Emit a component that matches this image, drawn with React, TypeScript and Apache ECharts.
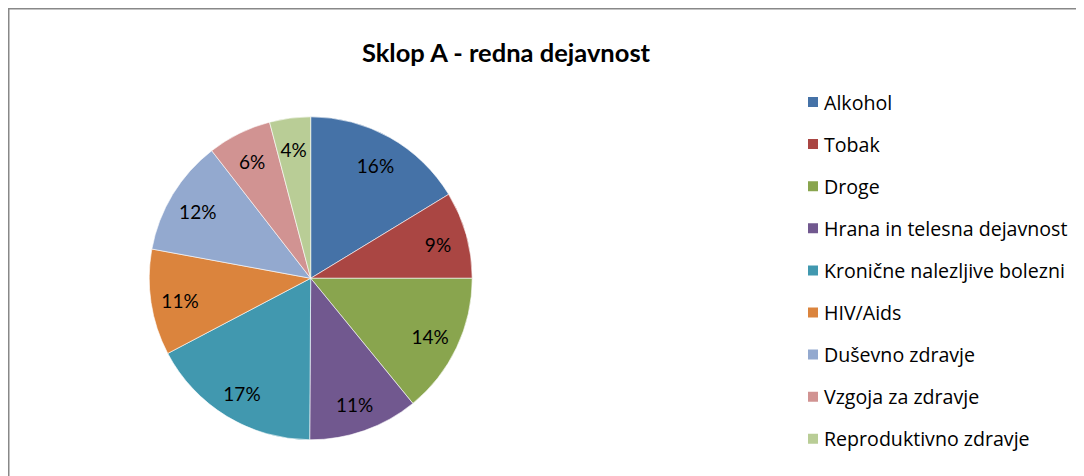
import React, { useEffect, useRef } from "react";
import * as echarts from "echarts";

const titleText = "Sklop A - redna dejavnost";
const categories = [
  "Alkohol",
  "Tobak",
  "Droge",
  "Hrana in telesna dejavnost",
  "Kronične nalezljive bolezni",
  "HIV/Aids",
  "Duševno zdravje",
  "Vzgoja za zdravje",
  "Reproduktivno zdravje",
];
const values = [16.3, 8.7, 14.1, 11.0, 17.2, 10.6, 11.6, 6.4, 4.1];
const colors = [
  "#4572A7",
  "#AA4643",
  "#89A54E",
  "#71588F",
  "#4198AF",
  "#DB843D",
  "#93A9CF",
  "#D19392",
  "#B9CD96",
];

const FONT = "Lato, 'Noto Sans', sans-serif";
const LEGEND_FONT = "'Open Sans', 'Noto Sans', sans-serif";

export default function App() {
  const ref = useRef<HTMLDivElement>(null);
  useEffect(() => {
    if (!ref.current) return;
    const chart = echarts.init(ref.current, undefined, { renderer: "svg" });
    const data = categories.map((name, i) => ({
      name,
      value: values[i],
      itemStyle: { color: colors[i] },
    }));
    const cx = 302.7;
    const cy = 270.3;
    const r = 161.5;
    chart.setOption({
      animation: false,
      backgroundColor: "#ffffff",
      title: {
        text: titleText,
        left: 498,
        top: 31,
        padding: 0,
        textAlign: "center",
        textStyle: {
          fontFamily: FONT,
          fontWeight: "bold",
          fontSize: 25.5,
          color: "#000000",
        },
      },
      legend: {
        orient: "vertical",
        left: 798,
        top: 84,
        padding: 0,
        itemWidth: 12,
        itemHeight: 12,
        itemGap: 22.1,
        icon: "rect",
        data: categories,
        textStyle: {
          fontFamily: LEGEND_FONT,
          fontSize: 19.6,
          lineHeight: 20,
          color: "#000000",
        },
      },
      graphic: [
        {
          type: "rect",
          silent: true,
          z: -1,
          shape: { x: 0.75, y: 0.75, width: 1073.5, height: 600 },
          style: { fill: "none", stroke: "#888888", lineWidth: 1.5 },
        },
      ],
      series: [
        {
          type: "pie",
          center: [cx, cy],
          radius: [0, r],
          startAngle: 90,
          clockwise: true,
          data,
          label: { show: false },
          labelLine: { show: false },
          itemStyle: { borderColor: "#ffffff", borderWidth: 0.6 },
          emphasis: { disabled: true },
          silent: true,
        },
        {
          type: "pie",
          center: [cx, cy + 2],
          radius: [r * 0.6, r],
          startAngle: 90,
          clockwise: true,
          percentPrecision: 0,
          data: categories.map((name, i) => ({
            name,
            value: values[i],
            itemStyle: { color: "rgba(0,0,0,0)" },
          })),
          legendHoverLink: false,
          label: {
            show: true,
            position: "inside",
            formatter: "{d}%",
            fontFamily: FONT,
            fontSize: 19,
            color: "#000000",
          },
          labelLine: { show: false },
          emphasis: { disabled: true },
          silent: true,
          z: 3,
        },
      ],
    });
    return () => chart.dispose();
  }, []);
  return <div ref={ref} style={{ width: 1076, height: 468 }} />;
}
